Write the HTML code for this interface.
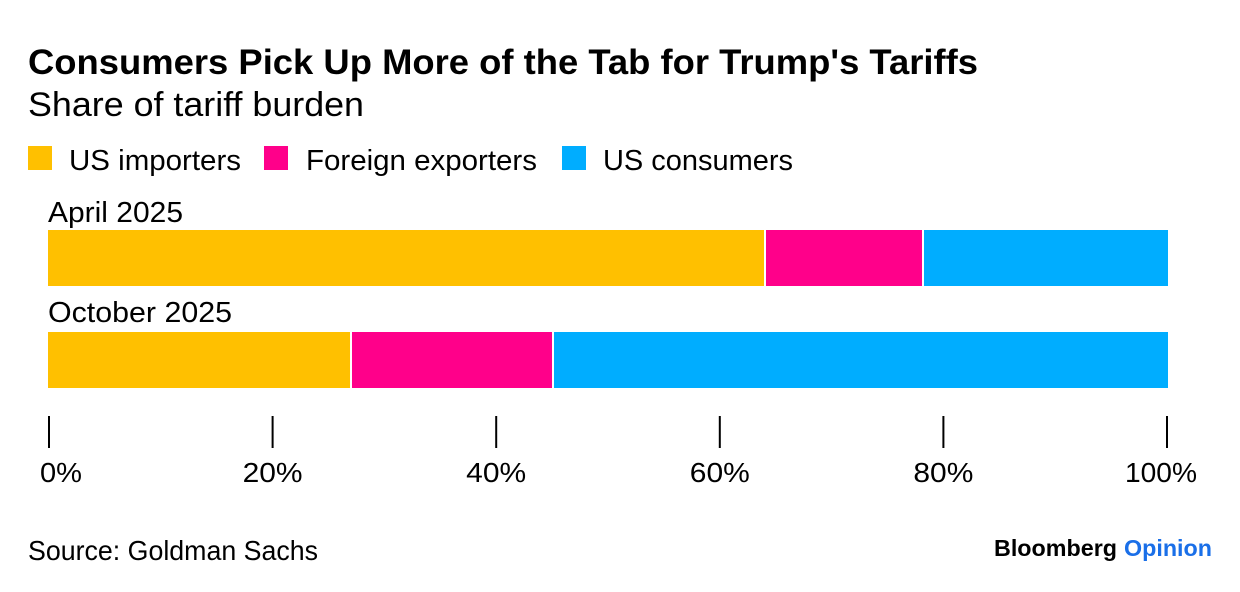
<!DOCTYPE html>
<html lang="en">
<head>
<meta charset="utf-8">
<title>Consumers Pick Up More of the Tab for Trump's Tariffs</title>
<style>
html,body{margin:0;padding:0;background:#fff;width:1240px;height:592px;overflow:hidden}
svg{display:block}
text{font-family:"Liberation Sans",sans-serif;fill:#000}
</style>
</head>
<body>
<svg id="chart" width="1240" height="592" viewBox="0 0 1240 592" xmlns="http://www.w3.org/2000/svg">
  <rect width="1240" height="592" fill="#fff"/>
  <text x="28" y="74" font-size="35.5" font-weight="700" textLength="950" lengthAdjust="spacingAndGlyphs">Consumers Pick Up More of the Tab for Trump's Tariffs</text>
  <text x="28" y="116" font-size="34" textLength="336" lengthAdjust="spacingAndGlyphs">Share of tariff burden</text>

  <rect x="28" y="146" width="24" height="24" fill="#ffc000"/>
  <text x="69" y="170" font-size="29" textLength="172" lengthAdjust="spacingAndGlyphs">US importers</text>
  <rect x="264" y="146" width="24" height="24" fill="#ff008a"/>
  <text x="306" y="170" font-size="29" textLength="231" lengthAdjust="spacingAndGlyphs">Foreign exporters</text>
  <rect x="562" y="146" width="24" height="24" fill="#00adff"/>
  <text x="603" y="170" font-size="29" textLength="190" lengthAdjust="spacingAndGlyphs">US consumers</text>

  <g id="bars"></g>
  <g id="axis"></g>

  <text x="28" y="560" font-size="27.5" textLength="290" lengthAdjust="spacingAndGlyphs">Source: Goldman Sachs</text>
  <text x="994" y="556" font-size="23.5" font-weight="700" textLength="123" lengthAdjust="spacingAndGlyphs">Bloomberg</text>
  <text x="1124" y="556" font-size="23.5" font-weight="700" textLength="88" lengthAdjust="spacingAndGlyphs" style="fill:#1a6fe8">Opinion</text>
</svg>
<script>
const periods = ['April 2025', 'October 2025'];
const usImporters = [64, 27];
const foreignExporters = [14.1, 18];
const usConsumers = [21.9, 55];
const tickValues = [0, 20, 40, 60, 80, 100];
const tickLabels = ['0%', '20%', '40%', '60%', '80%', '100%'];

const NS = 'http://www.w3.org/2000/svg';
const barsGroup = document.getElementById('bars');
const axisGroup = document.getElementById('axis');
const seriesList = [
  { key: 'us-importers', values: usImporters, color: '#ffc000' },
  { key: 'foreign-exporters', values: foreignExporters, color: '#ff008a' },
  { key: 'us-consumers', values: usConsumers, color: '#00adff' }
];
const barX = v => 48 + v * 11.2;
const tickX = v => 49 + v * 11.18;
const rowTop = i => 230 + i * 102;
const rowLabelY = i => 222 + i * 100;
const BAR_H = 56;
const GAP = 2;

function make(tag, attrs) {
  const el = document.createElementNS(NS, tag);
  for (const k in attrs) el.setAttribute(k, attrs[k]);
  return el;
}

periods.forEach((period, i) => {
  const label = make('text', { x: 48, y: rowLabelY(i), 'font-size': 29 });
  
  
  label.textContent = period;
  barsGroup.appendChild(label);

  let cum = 0;
  seriesList.forEach((s, j) => {
    const v0 = cum;
    cum += s.values[i];
    const x0 = j === 0 ? barX(v0) : Math.floor(barX(v0)) + GAP;
    const x1 = j === seriesList.length - 1 ? barX(cum) : Math.floor(barX(cum));
    const r = make('rect', { x: x0, y: rowTop(i), width: Math.max(0, x1 - x0), height: BAR_H, fill: s.color });
    
    
    barsGroup.appendChild(r);
  });
});

function labelWidth(str) {
  let w = 0;
  for (const ch of str) w += ch === '%' ? 24 : ch === '1' ? 12 : 18;
  return w;
}

tickValues.forEach((v, i) => {
  const x = tickX(v);
  const t = make('line', { x1: x, x2: x, y1: 416, y2: 448, stroke: '#000', 'stroke-width': 2 });
  
  
  axisGroup.appendChild(t);

  const str = tickLabels[i];
  const w = labelWidth(str);
  let left = x - w / 2;
  if (i === 0) left = x - 9;
  if (i === tickValues.length - 1) left = x + 30 - w;
  const lab = make('text', { x: left, y: 482, 'font-size': 28, textLength: w, lengthAdjust: 'spacingAndGlyphs' });
  
  
  lab.textContent = str;
  axisGroup.appendChild(lab);
});

const rowLabels = barsGroup.querySelectorAll('text');
rowLabels[0].setAttribute('textLength', 135);
rowLabels[0].setAttribute('lengthAdjust', 'spacingAndGlyphs');
rowLabels[1].setAttribute('textLength', 184);
rowLabels[1].setAttribute('lengthAdjust', 'spacingAndGlyphs');
</script>
</body>
</html>
